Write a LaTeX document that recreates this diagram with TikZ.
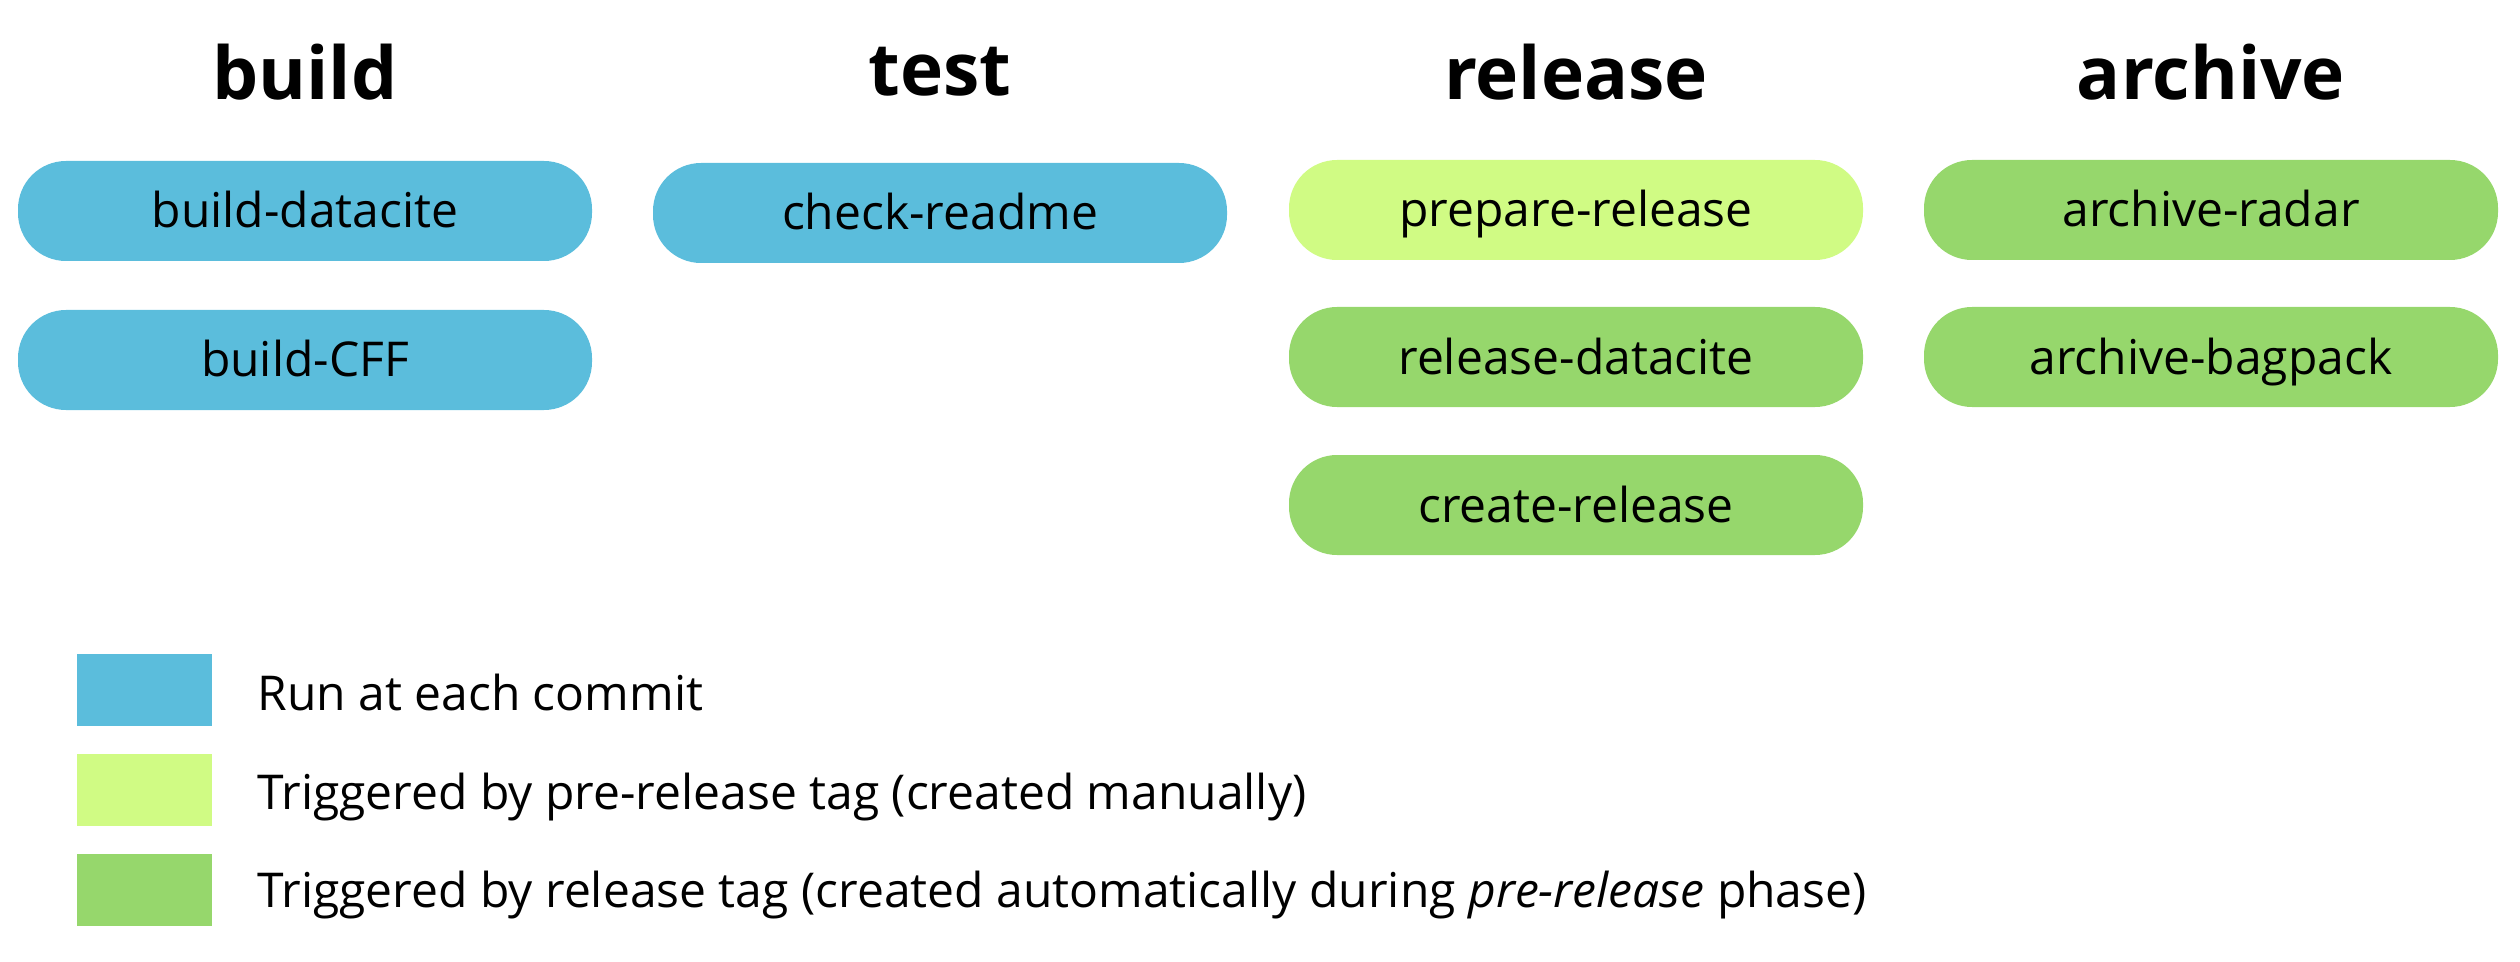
\documentclass[tikz,border=0pt]{standalone}
\usepackage{fontspec}
\setmainfont{Open Sans}
\definecolor{runblue}{RGB}{91,189,220}
\definecolor{preg}{RGB}{208,251,132}
\definecolor{relg}{RGB}{150,215,108}
\begin{document}
\begin{tikzpicture}[x=0.5pt,y=-0.5pt,
  title/.style={font=\fontsize{36.5}{42}\selectfont\bfseries, anchor=center},
  job/.style={rounded corners=24pt, minimum width=287pt, minimum height=50pt, inner sep=0pt, text height=23pt, text depth=6pt, font=\fontsize{24}{28}\selectfont},
  legsq/.style={minimum width=67.5pt, minimum height=36pt, inner sep=0pt},
  legtxt/.style={anchor=west, font=\fontsize{24}{28}\selectfont, inner sep=0pt, text height=23pt, text depth=6pt}]
\useasboundingbox (0,0) rectangle (2520,962);
% titles
\node[title] (tbuild) at (305,72) {build};
\node[title] (ttest) at (940,72) {test};
\node[title] (trel) at (1576,72) {release};
\node[title] (tarch) at (2211,72) {archive};
% jobs
\node[job, fill=runblue] (bdc) at (305,211) {build-datacite};
\node[job, fill=runblue] (bcff) at (305,360) {build-CFF};
\node[job, fill=runblue] (crm) at (940,213) {check-readme};
\node[job, fill=preg] (prep) at (1576,210) {prepare-release};
\node[job, fill=relg] (rdc) at (1576,357) {release-datacite};
\node[job, fill=relg] (crel) at (1576,505) {create-release};
\node[job, fill=relg] (arad) at (2211,210) {archive-radar};
\node[job, fill=relg] (abag) at (2211,357) {archive-bagpack};
% legend
\node[legsq, fill=runblue] (l1) at (144.5,690) {};
\node[legsq, fill=preg] (l2) at (144.5,790) {};
\node[legsq, fill=relg] (l3) at (144.5,890) {};
\node[legtxt] (t1) at (257,693) {Run at each commit};
\node[legtxt] (t2) at (257,792) {Triggered by pre-release tag (created manually)};
\node[legtxt] (t3) at (257,890) {Triggered by release tag (created automatically during \textit{pre-release} phase)};
\end{tikzpicture}
\end{document}
